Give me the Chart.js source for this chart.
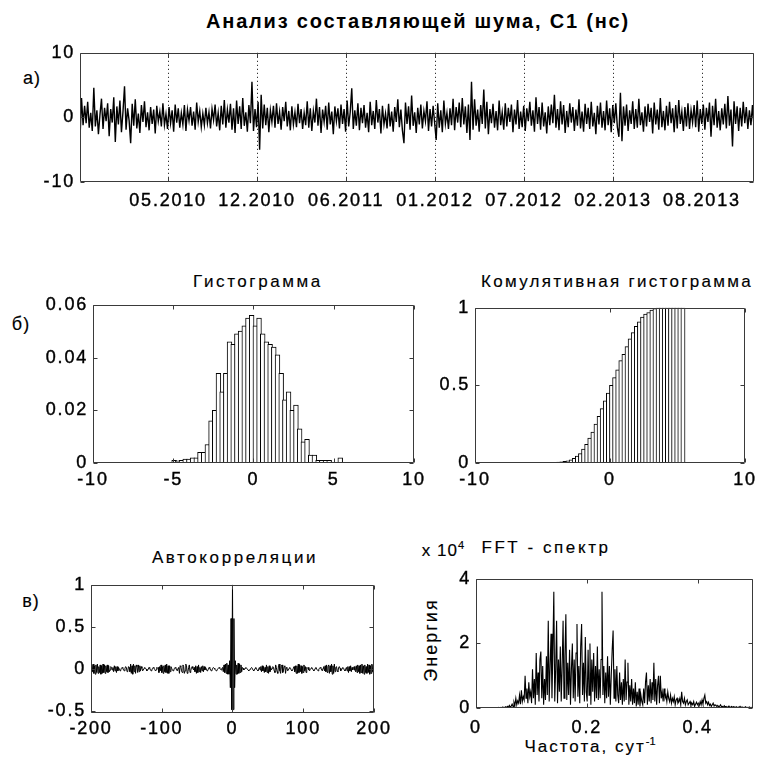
<!DOCTYPE html>
<html><head><meta charset="utf-8">
<script src="https://cdn.jsdelivr.net/npm/chart.js@4"></script>
<style>
body{margin:0;background:#fff;width:766px;height:763px;position:relative;overflow:hidden;font-family:"Liberation Sans",Arial,sans-serif;}
canvas{position:absolute;}
.t{position:absolute;transform:translate(-50%,-50%);white-space:nowrap;color:#000;font-size:17px;letter-spacing:2.6px;line-height:1;-webkit-text-stroke:0.15px #000;}
.b{font-weight:bold;font-size:20px;letter-spacing:1.8px;-webkit-text-stroke:0;}
sup{font-size:11px;letter-spacing:0;vertical-align:7px;}
</style></head><body>
<div class="t b" style="left:418px;top:21px">Анализ составляющей шума, С1 (нс)</div>
<div class="t" style="left:32px;top:78px;font-size:18px;letter-spacing:1px">а)</div>
<div class="t" style="left:258px;top:281px">Гистограмма</div>
<div class="t" style="left:617px;top:281px;letter-spacing:2.3px">Комулятивная гистограмма</div>
<div class="t" style="left:21px;top:324px;font-size:18px;letter-spacing:1px">б)</div>
<div class="t" style="left:235px;top:557px">Автокорреляции</div>
<div class="t" style="left:31px;top:601px;font-size:18px;letter-spacing:1px">в)</div>
<div class="t" style="left:546px;top:547px">FFT - спектр</div>
<div class="t" style="left:443px;top:549px;letter-spacing:1px">x 10<sup>4</sup></div>
<div class="t" style="left:431px;top:640px;transform:translate(-50%,-50%) rotate(-90deg);font-size:18px;letter-spacing:2px">Энергия</div>
<div class="t" style="left:590px;top:745px;letter-spacing:2px">Частота, сут<sup>-1</sup></div>
<script>
// ---------------- DATA ----------------
const tsValues = [
-3.3,3.0,-1.2,1.8,-0.9,2.4,-1.6,0.7,-2.1,4.6,-1.4,1.1,-2.6,0.4,2.9,-1.8,1.5,-0.6,2.2,-2.9,
1.3,-0.8,3.1,-3.8,1.7,-1.1,2.6,-2.3,0.9,4.8,-1.9,1.4,-0.5,-4.0,2.1,-1.3,2.8,-1.7,0.6,-2.4,
1.9,-0.7,2.5,-1.5,0.8,-2.0,1.6,-1.0,1.2,-2.5,1.8,-0.6,0.9,-1.4,2.2,-1.2,0.5,-1.8,1.6,-0.9,
1.1,-2.2,2.0,-0.8,1.4,-1.6,0.7,-1.1,1.9,-2.1,1.2,-0.5,1.6,-1.3,0.9,-1.9,2.3,-0.7,1.0,-1.5,
0.6,-1.2,1.5,-0.9,0.8,-1.7,1.3,-0.4,2.0,-1.4,0.7,-2.0,1.8,-1.1,2.7,-1.6,1.2,-0.8,2.1,-1.9,
1.4,-2.4,2.6,-1.0,1.7,-1.8,3.0,-1.3,0.8,-2.2,1.9,-0.9,5.5,-2.1,1.3,-1.5,2.4,-5.0,3.5,-1.7,
2.0,-1.2,1.5,-2.3,1.1,-0.7,1.8,-1.6,2.2,-1.0,0.9,-1.9,1.6,-0.6,2.4,-1.4,1.0,-2.0,1.7,-1.1,
0.8,-1.5,2.1,-0.9,1.3,-1.8,0.7,-1.2,2.5,-1.6,1.4,-2.1,1.0,-0.8,2.9,-1.3,1.6,-2.4,1.2,-0.7,
1.8,-1.9,2.3,-1.1,0.9,-2.6,1.7,-0.6,1.4,-1.7,2.0,-1.0,1.3,-2.2,2.6,-1.4,0.8,4.5,-1.8,1.1,
-1.3,2.2,-2.0,1.5,-0.9,1.9,-1.6,0.7,-2.3,2.4,-1.2,1.0,-1.8,2.7,-0.8,1.3,-2.5,1.8,-1.1,0.6,
-1.7,2.1,-1.4,0.9,-2.2,1.6,-0.7,2.8,-1.5,1.2,-2.0,-4.0,2.3,-1.0,1.7,-1.9,3.4,-1.3,0.8,-2.4,
1.5,-1.1,2.0,-1.7,1.0,-0.6,2.5,-2.1,1.3,-1.4,1.8,-0.9,-3.5,2.2,-1.6,1.1,-2.3,2.6,-1.0,0.7,
-1.8,1.4,-1.2,2.9,-2.0,1.6,-0.8,2.3,-1.5,3.0,-1.1,1.7,-2.4,2.0,-3.5,5.5,-1.9,2.8,-1.3,1.2,
-2.2,1.9,-1.0,4.3,-1.7,2.4,-2.6,1.3,-0.9,2.1,-1.6,1.0,-2.0,2.6,-1.2,0.8,-1.9,2.2,-1.4,1.5,
-0.7,2.0,-2.3,1.2,-1.1,2.7,-1.8,0.9,-1.5,1.8,-2.1,1.4,-0.6,2.4,-1.3,1.1,-2.2,3.1,-1.0,1.6,
-1.9,2.3,-1.4,0.8,-2.5,1.7,-1.2,2.0,-0.9,3.5,-1.6,1.3,-2.0,2.5,-1.1,1.9,-2.4,1.0,-1.5,2.2,
-0.8,1.6,-2.1,1.2,-1.3,2.8,-1.7,0.9,-2.2,2.1,-1.0,1.5,-1.8,2.4,-1.4,0.7,-2.6,1.8,-1.1,2.3,
-1.6,1.0,-2.0,2.6,-1.2,1.4,-2.3,1.9,-0.9,2.2,-1.5,-3.0,3.8,-3.7,1.7,-1.3,2.0,-2.1,1.1,-1.0,
2.5,-1.8,1.3,-1.6,2.9,-1.2,0.8,-2.2,1.7,-1.4,2.1,-0.7,1.5,-2.5,2.3,-1.1,1.2,-1.9,3.0,-1.5,
1.0,-2.0,1.8,-1.3,2.4,-0.9,1.4,-2.3,1.9,-1.7,2.7,-1.0,0.9,-2.1,1.6,-1.4,2.2,-1.8,1.1,-0.8,
1.9,-1.5,2.6,-2.2,1.3,-1.0,2.0,-1.9,1.5,-0.7,2.3,-3.0,1.8,-1.2,2.9,-1.6,1.0,-2.0,1.4,-1.1,
2.1,-1.7,3.3,-1.3,1.2,-4.5,2.5,-1.0,1.7,-2.1,1.5,-1.4,2.4,-0.9,1.6,-1.8,1.1,-1.2,1.9,-1.5
];
const tsLastDay = 1515;                       // day number of the last sample
const dateTickDays = [198,398,598,798,998,1198,1398];
const dateTickLabels = ['05.2010','12.2010','06.2011','01.2012','07.2012','02.2013','08.2013'];
const tsYTicks = [-10,0,10];

const histCenters = [-4.945,-4.715,-4.485,-4.255,-4.025,-3.795,-3.565,-3.335,-3.105,-2.875,
-2.645,-2.415,-2.185,-1.955,-1.725,-1.495,-1.265,-1.035,-0.805,-0.575,
-0.345,-0.115,0.115,0.345,0.575,0.805,1.035,1.265,1.495,1.725,
1.955,2.185,2.415,2.645,2.875,3.105,3.335,3.565,3.795,4.025,
4.255,4.485,4.715,4.945,5.175,5.405];
const histValues = [0.001,0.0008,0.001,0.0015,0.0015,0.002,0.002,0.004,0.004,0.007,
0.016,0.020,0.034,0.027,0.034,0.046,0.045,0.049,0.050,0.052,
0.055,0.056,0.052,0.055,0.049,0.046,0.045,0.044,0.041,0.034,
0.024,0.027,0.020,0.022,0.013,0.008,0.009,0.003,0.003,0.001,
0.001,0.001,0.001,0,0,0.002];
const cumValues = [0.002,0.002,0.003,0.004,0.005,0.006,0.008,0.01,0.014,0.02,
0.03,0.045,0.06,0.09,0.12,0.16,0.2,0.25,0.3,0.35,
0.4,0.45,0.5,0.55,0.6,0.66,0.7,0.75,0.8,0.84,
0.88,0.91,0.94,0.96,0.97,0.985,0.995,1,1,1,
1,1,1,1,1,1];
const histXTicks = [-10,-5,0,5,10];
const histYTicks = [0,0.02,0.04,0.06];
const cumXTicks = [-10,0,10];
const cumYTicks = [0,0.5,1];

// autocorrelation for lags 1..200 (lag 0 = 1, symmetric)
const acfLag0 = 1;
const acfPositive = [
-0.48,0.60,-0.22,0.10,-0.06,0.05,-0.06,0.07,-0.05,0.06,
-0.04,0.05,-0.03,0.02,0.01,-0.01,0.00,0.01,0.02,0.01,
0.00,-0.01,-0.02,-0.01,0.00,0.01,0.02,0.01,-0.01,-0.02,
-0.01,0.01,0.02,0.00,-0.01,-0.02,0.00,0.02,-0.01,0.03,
-0.03,0.04,-0.02,0.03,-0.04,0.02,-0.03,0.05,-0.04,0.03,
-0.05,0.04,-0.03,0.02,-0.01,0.01,0.03,0.02,-0.02,-0.04,
0.05,0.02,-0.03,-0.05,0.04,0.06,-0.02,-0.05,0.03,0.05,
-0.04,-0.02,0.03,0.04,-0.05,0.02,0.01,-0.02,-0.01,0.01,
0.02,0.01,-0.01,-0.02,-0.01,0.01,0.03,-0.03,0.04,-0.05,
0.04,-0.05,0.06,-0.04,0.05,-0.03,0.04,-0.05,0.03,-0.04,
0.05,-0.02,0.03,-0.04,0.02,0.01,0.02,-0.01,-0.02,0.00,
0.01,0.02,0.01,-0.01,-0.02,-0.01,0.01,0.02,0.00,-0.01,
-0.02,0.00,0.01,0.02,0.01,-0.01,-0.02,0.01,0.03,-0.02,
0.04,-0.03,0.05,-0.04,0.03,0.05,-0.05,0.04,-0.03,0.06,
-0.06,0.04,-0.05,0.06,-0.03,0.02,0.03,-0.02,-0.03,0.02,
0.03,0.01,-0.02,-0.01,0.01,0.02,0.01,-0.01,-0.02,0.00,
0.02,-0.02,0.03,-0.04,0.03,-0.02,0.04,-0.03,0.02,-0.01,
0.02,0.03,-0.01,-0.03,0.04,-0.04,0.05,-0.03,0.04,-0.05,
0.05,-0.04,0.06,-0.05,0.04,-0.06,0.05,-0.04,0.03,-0.05,
0.06,-0.04,0.05,-0.06,0.04,-0.05,0.06,-0.03,0.05,-0.04
];
const acfXTicks = [-200,-100,0,100,200];
const acfYTicks = [-0.5,0,0.5,1];

// FFT energy (units of 1e4), frequencies 0 .. 0.5 1/day
const fftMaxFreq = 0.5;
const fftEnergy = [
0,0.01,0,0.01,0,0,0.01,0,0.01,0,0.01,0,0,0.01,0,0.01,0,0.01,0,0.01,
0,0.01,0.01,0,0.02,0.01,0,0.02,0.01,0.03,0.01,0.02,0.04,0.01,0.05,0.02,0.08,0.03,0.06,0.12,
0.05,0.18,0.08,0.3,0.1,0.22,0.15,0.4,0.12,0.55,0.2,0.35,0.25,1.0,0.3,0.6,0.15,0.8,0.35,0.5,
0.15,1.2,0.3,0.9,0.1,1.7,0.4,1.1,0.2,1.5,1.75,0.3,1.3,0.1,0.9,0.25,1.6,0.4,2.7,0.2,
1.3,2.3,0.3,1.8,3.6,0.2,1.2,2.7,0.15,1.5,0.5,1.9,0.2,1.3,2.7,0.3,1.6,2.9,0.25,1.4,
0.4,1.8,0.1,1.2,2.0,0.3,1.5,0.2,1.7,2.6,0.35,1.3,0.15,1.9,2.6,0.4,1.4,0.2,2.2,0.5,
0.2,1.8,0.4,2.0,0.1,1.5,0.5,1.7,0.2,1.3,0.3,1.9,0.25,1.2,0.3,1.5,3.6,0.4,1.3,0.15,
1.1,0.3,1.6,0.35,1.3,0.1,1.0,1.8,2.4,0.3,1.2,0.2,1.3,0.4,0.15,1.1,0.25,0.8,0.1,0.9,
0.2,1.5,0.25,0.8,1.4,0.1,0.7,0.2,0.9,0.1,0.6,0.15,0.8,0.05,0.5,0.1,0.6,0.05,0.4,0.2,
0.1,0.6,0.15,0.8,1.1,0.1,0.7,0.2,0.9,0.15,0.8,0.25,1.4,0.2,0.9,0.1,0.7,1.0,0.15,1.0,
0.3,0.5,0.2,0.6,0.3,0.4,0.2,0.5,0.3,0.2,0.4,0.15,0.3,0.2,0.35,0.1,0.25,0.3,0.15,0.2,
0.3,0.1,0.5,0.2,0.15,0.3,0.1,0.2,0.25,0.1,0.15,0.2,0.08,0.15,0.1,0.2,0.05,0.12,0.18,0.1,
0.15,0.08,0.2,0.1,0.25,0.12,0.3,0.4,0.15,0.2,0.1,0.18,0.08,0.12,0.05,0.1,0.15,0.06,0.1,0.08,
0.05,0.08,0.03,0.06,0.1,0.04,0.05,0.02,0.07,0.03,0.05,0.02,0.04,0.06,0.02,0.03,0.05,0.02,0.04,0.03,
0.02,0.04,0.01,0.03,0.02,0.05,0.01,0.02,0.03,0.01,0.02,0.04,0.01,0.02,0.01,0.03,0.01,0.02,0.01,0.02
];
const fftXTicks = [0,0.2,0.4];
const fftYTicks = [0,2,4];

// ---------------- RENDER ----------------
const FONT = {family:'"Liberation Sans", Arial, sans-serif', size:18};
const framePlugin = {
  id:'frame',
  beforeDraw(chart){ chart.ctx.letterSpacing='1.8px'; },
  beforeDatasetsDraw(chart,args,opts){
    if(!opts.dotted) return;
    const {ctx,chartArea:a,scales:{x}} = chart;
    ctx.save(); ctx.strokeStyle='#000'; ctx.lineWidth=1; ctx.setLineDash([1,3]);
    ctx.beginPath();
    x.ticks.forEach(t=>{const p=Math.round(x.getPixelForValue(t.value))+0.5; ctx.moveTo(p,a.top); ctx.lineTo(p,a.bottom);});
    ctx.stroke(); ctx.restore();
  },
  afterDraw(chart){
    const {ctx,chartArea:a,scales:{x,y}} = chart;
    const L=4;
    ctx.save(); ctx.strokeStyle='#3a3a3a'; ctx.lineWidth=1; ctx.setLineDash([]);
    ctx.beginPath();
    const l=Math.round(a.left)+0.5, r=Math.round(a.right)-0.5, t=Math.round(a.top)+0.5, b=Math.round(a.bottom)-0.5;
    ctx.rect(l,t,r-l,b-t);
    x.ticks.forEach(tk=>{const p=Math.round(x.getPixelForValue(tk.value))+0.5; ctx.moveTo(p,b); ctx.lineTo(p,b-L); ctx.moveTo(p,t); ctx.lineTo(p,t+L);});
    y.ticks.forEach(tk=>{const p=Math.round(y.getPixelForValue(tk.value))+0.5; ctx.moveTo(l,p); ctx.lineTo(l+L,p); ctx.moveTo(r,p); ctx.lineTo(r-L,p);});
    ctx.stroke(); ctx.restore();
  }
};
function axis(min,max,ticks,fmt,pad){
  return {type:'linear',min,max,offset:false,
    grid:{display:false,drawTicks:false},border:{display:false},
    afterBuildTicks:s=>{s.ticks=ticks.map(v=>({value:v}));},
    ticks:{color:'#000',font:FONT,padding:pad||5,maxRotation:0,autoSkip:false,
      textStrokeColor:'#000',textStrokeWidth:0.4,
      callback:fmt||(v=>String(v))}};
}
function mk(g,cfg,frameOpts){
  const c=document.createElement('canvas');
  const w=g.W+g.ML+g.MR, h=g.H+g.MT+g.MB;
  c.width=w; c.height=h;
  Object.assign(c.style,{left:(g.L-g.ML)+'px',top:(g.T-g.MT)+'px',width:w+'px',height:h+'px'});
  document.body.appendChild(c);
  cfg.options.responsive=false; cfg.options.animation=false; cfg.options.devicePixelRatio=1;
  cfg.options.layout={autoPadding:false,padding:{left:0,top:g.MT,right:g.MR,bottom:0}};
  cfg.options.plugins={legend:{display:false},tooltip:{enabled:false},frame:frameOpts||{}};
  cfg.options.scales.x.afterFit=s=>{s.height=g.MB;};
  cfg.options.scales.y.afterFit=s=>{s.width=g.ML;};
  cfg.plugins=[framePlugin];
  return new Chart(c,cfg);
}
const lineDs = (pts,w) => ({data:pts,borderColor:'#000',borderWidth:w||1,pointRadius:0,tension:0,fill:false});
const barDs = (xs,ys,px) => ({data:xs.map((x,i)=>({x,y:ys[i]})),backgroundColor:'#fff',borderColor:'#000',
  borderWidth:1,borderSkipped:false,barThickness:px});

// a) time series
mk({L:80,T:45,W:674,H:137,ML:70,MT:8,MR:8,MB:36},{
  type:'line',
  data:{datasets:[lineDs(tsValues.map((v,i)=>({x:i*tsLastDay/(tsValues.length-1),y:v})),1.4)]},
  options:{scales:{x:axis(0,tsLastDay,dateTickDays,(v,i)=>dateTickLabels[i],8),y:axis(-10,10,tsYTicks)}}
},{dotted:true});

// б) histogram
const binW = histCenters[1]-histCenters[0];
mk({L:93,T:297,W:329,H:166,ML:65,MT:8,MR:8,MB:30},{
  type:'bar',
  data:{datasets:[barDs(histCenters,histValues,329/20*binW+1)]},
  options:{scales:{x:axis(-10,10,histXTicks,null,6),y:axis(0,0.06,histYTicks)}}
});
// cumulative
mk({L:475,T:300,W:278,H:163,ML:55,MT:8,MR:8,MB:30},{
  type:'bar',
  data:{datasets:[barDs(histCenters,cumValues,278/20*binW+1)]},
  options:{scales:{x:axis(-10,10,cumXTicks,null,6),y:axis(0,1,cumYTicks)}}
});

// в) autocorrelation
const acfAll = acfPositive.slice().reverse().concat([acfLag0],acfPositive);
mk({L:91,T:577,W:291,H:136,ML:65,MT:8,MR:12,MB:30},{
  type:'line',
  data:{datasets:[lineDs(acfAll.map((v,i)=>({x:i-acfPositive.length,y:v})))]},
  options:{scales:{x:axis(-200,200,acfXTicks),y:axis(-0.52,1,acfYTicks)}}
});

// FFT spectrum
mk({L:476,T:571,W:277,H:137,ML:30,MT:8,MR:10,MB:34},{
  type:'line',
  data:{datasets:[lineDs(fftEnergy.map((v,i)=>({x:i*fftMaxFreq/(fftEnergy.length-1),y:v})),1.1)]},
  options:{scales:{x:axis(0,fftMaxFreq,fftXTicks,null,9),y:axis(0,4,fftYTicks)}}
});
</script>
</body></html>
